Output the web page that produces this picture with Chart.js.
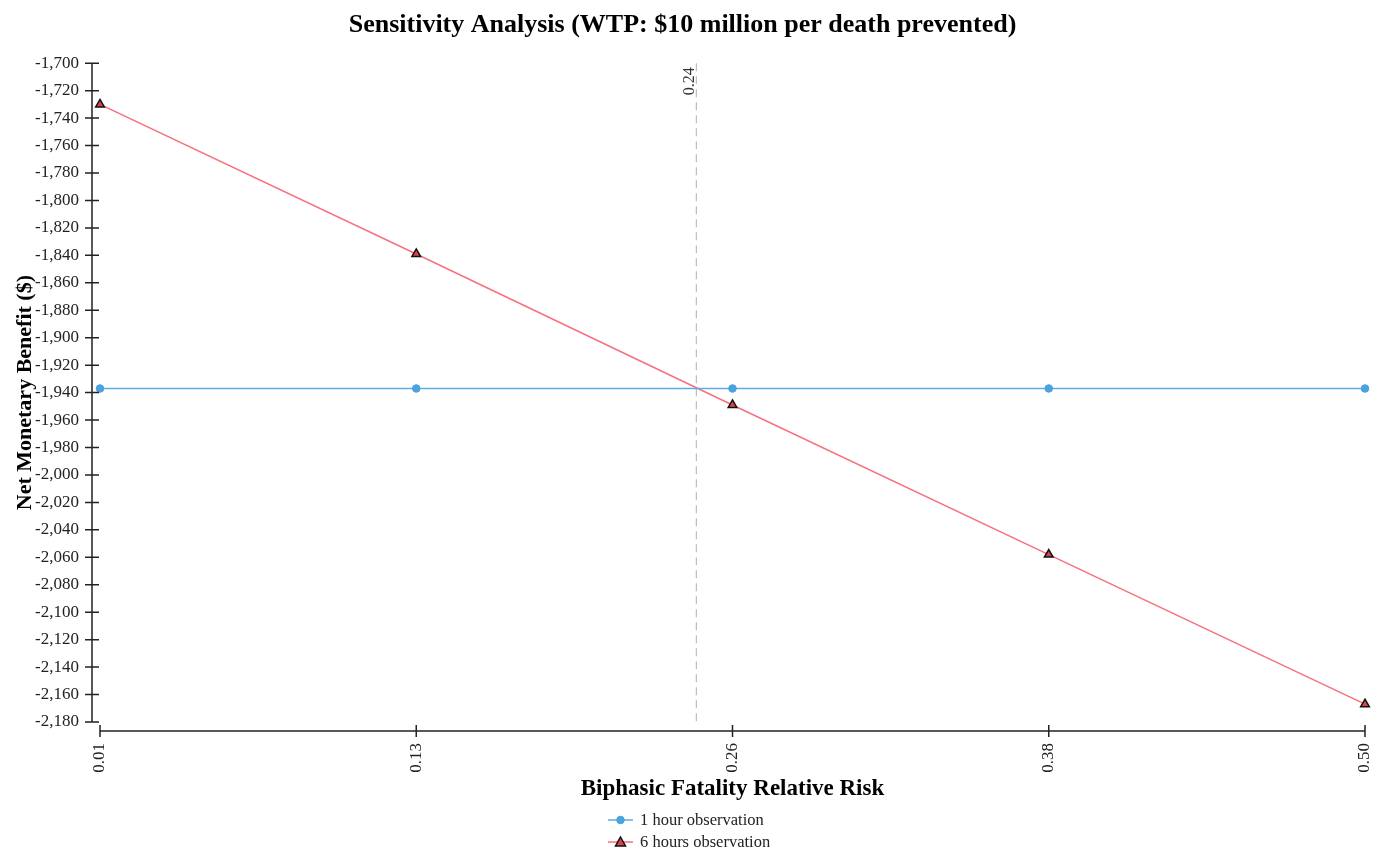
<!DOCTYPE html>
<html>
<head>
<meta charset="utf-8">
<script src="https://cdn.jsdelivr.net/npm/chart.js@4.4.1/dist/chart.umd.min.js"></script>
<style>
  html, body { margin: 0; padding: 0; background: #fff; overflow: hidden; }
  #wrap { width: 1375px; height: 851px; position: relative; }
</style>
</head>
<body>
<div id="wrap"><canvas id="graph"></canvas></div>
<script>
// Datos
const riskValues = [0.01, 0.1325, 0.255, 0.3775, 0.50];
const riskLabels = ['0.01', '0.13', '0.26', '0.38', '0.50'];
const oneHour = [-1937, -1937, -1937, -1937, -1937];
const sixHours = [-1730, -1839, -1949, -2058, -2167];
const thresholdValue = 0.241;
const thresholdLabel = '0.24';
const yMin = -2180;
const yMax = -1700;

const serif = "'Liberation Serif', 'Times New Roman', serif";
const seriesNames = ['1 hour observation', '6 hours observation'];

// Línea vertical discontinua del umbral
const thresholdPlugin = {
  id: 'threshold',
  beforeDatasetsDraw(chart) {
    const { ctx, chartArea: a, scales: { x } } = chart;
    const px = x.getPixelForValue(thresholdValue);
    ctx.save();
    ctx.strokeStyle = '#bdbdbd';
    ctx.lineWidth = 1.2;
    ctx.setLineDash([8, 5]);
    ctx.beginPath();
    ctx.moveTo(px, a.top);
    ctx.lineTo(px, a.bottom);
    ctx.stroke();
    ctx.setLineDash([]);
    ctx.translate(px - 7, a.top + 4);
    ctx.rotate(-Math.PI / 2);
    ctx.fillStyle = '#333';
    ctx.font = '16px ' + serif;
    ctx.textAlign = 'right';
    ctx.textBaseline = 'middle';
    ctx.fillText(thresholdLabel, 0, 0);
    ctx.restore();
  }
};

// Ejes desplazados (estilo d3) y leyenda vertical abajo
const axesPlugin = {
  id: 'offsetAxes',
  afterDraw(chart) {
    const { ctx, chartArea: a, scales: { x, y } } = chart;
    ctx.save();
    ctx.strokeStyle = '#222';
    ctx.lineWidth = 1.5;

    const ax = a.left - 8;
    ctx.beginPath();
    ctx.moveTo(ax, y.getPixelForValue(yMax));
    ctx.lineTo(ax, y.getPixelForValue(yMin));
    y.ticks.forEach(t => {
      const py = y.getPixelForValue(t.value);
      ctx.moveTo(ax - 7, py);
      ctx.lineTo(ax + 7, py);
    });
    ctx.stroke();

    const ay = a.bottom + 9;
    ctx.beginPath();
    ctx.moveTo(x.getPixelForValue(riskValues[0]), ay);
    ctx.lineTo(x.getPixelForValue(riskValues[riskValues.length - 1]), ay);
    riskValues.forEach(v => {
      const px = x.getPixelForValue(v);
      ctx.moveTo(px, ay - 6);
      ctx.lineTo(px, ay + 6);
    });
    ctx.stroke();

    // leyenda
    const lx = 608, ly = 820;
    chart.data.datasets.forEach((ds, i) => {
      const yy = ly + i * 22;
      ctx.strokeStyle = ds.borderColor;
      ctx.lineWidth = 1.5;
      ctx.beginPath();
      ctx.moveTo(lx, yy);
      ctx.lineTo(lx + 25, yy);
      ctx.stroke();
      const cx = lx + 12.5;
      ctx.fillStyle = ds.pointBackgroundColor;
      ctx.strokeStyle = ds.pointBorderColor;
      ctx.lineWidth = ds.pointBorderWidth;
      ctx.beginPath();
      if (ds.pointStyle === 'triangle') {
        ctx.moveTo(cx, yy - 5);
        ctx.lineTo(cx + 5, yy + 4);
        ctx.lineTo(cx - 5, yy + 4);
        ctx.closePath();
      } else {
        ctx.arc(cx, yy, 3.8, 0, Math.PI * 2);
      }
      ctx.fill();
      ctx.stroke();
      ctx.fillStyle = '#222';
      ctx.font = '16.5px ' + serif;
      ctx.textAlign = 'left';
      ctx.textBaseline = 'middle';
      ctx.fillText(ds.label, lx + 32, yy + 1);
    });
    ctx.restore();
  }
};

const ctx = document.getElementById('graph').getContext('2d');
new Chart(ctx, {
  type: 'line',
  data: {
    datasets: [
      {
        label: seriesNames[0],
        data: riskValues.map((v, i) => ({ x: v, y: oneHour[i] })),
        borderColor: '#5dade2',
        borderWidth: 1.5,
        pointStyle: 'circle',
        pointRadius: 3.8,
        pointBackgroundColor: '#4aa3df',
        pointBorderColor: '#4aa3df',
        pointBorderWidth: 1,
        tension: 0,
        clip: false
      },
      {
        label: seriesNames[1],
        data: riskValues.map((v, i) => ({ x: v, y: sixHours[i] })),
        borderColor: '#f7707e',
        borderWidth: 1.5,
        pointStyle: 'triangle',
        pointRadius: 5,
        pointBackgroundColor: '#d9434f',
        pointBorderColor: '#111',
        pointBorderWidth: 1.5,
        tension: 0,
        clip: false
      }
    ]
  },
  options: {
    responsive: true,
    maintainAspectRatio: false,
    animation: false,
    layout: { padding: { left: 0, right: 10, top: 0, bottom: 0 } },
    plugins: {
      legend: { display: false },
      tooltip: { enabled: false },
      title: {
        display: true,
        text: 'Sensitivity Analysis (WTP: $10 million per death prevented)',
        color: '#000',
        font: { family: serif, size: 26, weight: 'bold' },
        padding: { top: 10, bottom: 22 }
      }
    },
    scales: {
      x: {
        type: 'linear',
        min: riskValues[0],
        max: riskValues[riskValues.length - 1],
        afterBuildTicks: s => { s.ticks = riskValues.map(v => ({ value: v })); },
        afterFit: s => { s.height = 129; s.paddingLeft = 0; s.paddingRight = 0; },
        grid: { display: false, drawTicks: false },
        border: { display: false },
        ticks: {
          color: '#222',
          font: { family: serif, size: 17 },
          minRotation: 90,
          maxRotation: 90,
          padding: 21,
          callback: (v, i) => riskLabels[i]
        },
        title: {
          display: true,
          text: 'Biphasic Fatality Relative Risk',
          color: '#000',
          font: { family: serif, size: 23, weight: 'bold' },
          padding: { top: 0, bottom: 48 }
        }
      },
      y: {
        min: yMin,
        max: yMax,
        afterFit: s => { s.width = 100; s.paddingTop = 0; s.paddingBottom = 0; },
        grid: { display: false, drawTicks: false },
        border: { display: false },
        ticks: {
          stepSize: 20,
          color: '#222',
          font: { family: serif, size: 17 },
          padding: 21,
          callback: v => v.toLocaleString('en-US')
        },
        title: {
          display: true,
          text: 'Net Monetary Benefit ($)',
          color: '#000',
          font: { family: serif, size: 22, weight: 'bold' },
          padding: { top: 12, bottom: 0 }
        }
      }
    }
  },
  plugins: [thresholdPlugin, axesPlugin]
});
</script>
</body>
</html>
